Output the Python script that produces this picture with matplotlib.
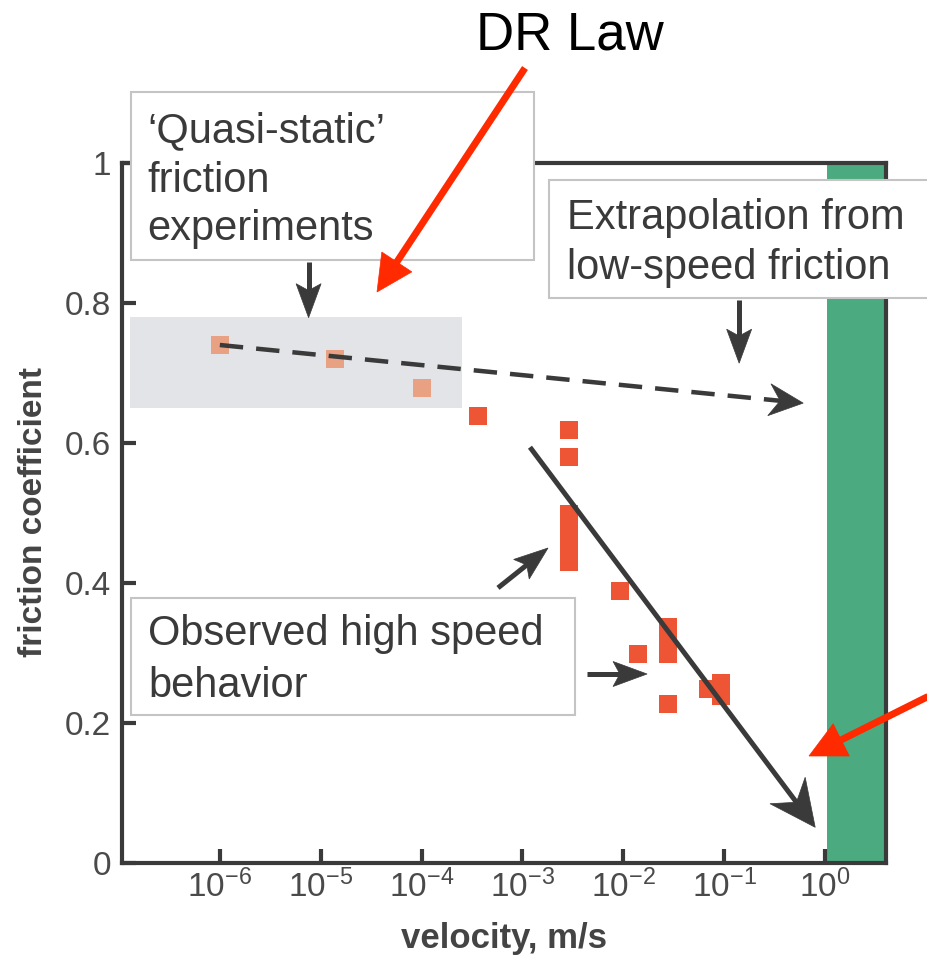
import numpy as np
import matplotlib
matplotlib.use('Agg')
import matplotlib.pyplot as plt
from matplotlib.patches import Rectangle, Polygon
from matplotlib.lines import Line2D
from matplotlib.transforms import IdentityTransform

plt.rcParams['font.family'] = ['Liberation Sans', 'DejaVu Sans']
plt.rcParams['mathtext.fontset'] = 'custom'
plt.rcParams['mathtext.rm'] = 'Liberation Sans'
plt.rcParams['mathtext.it'] = 'Liberation Sans:italic'
plt.rcParams['mathtext.bf'] = 'Liberation Sans:bold'

W, H = 928, 961

# ---------------- data ----------------
quasi_v = [1.0e-6, 1.38e-5, 1.0e-4]
quasi_mu = [0.740, 0.720, 0.679]

high_v = [3.6e-4, 2.9e-3, 2.9e-3, 2.9e-3, 2.9e-3, 2.9e-3, 2.9e-3, 2.9e-3,
          9.3e-3, 1.4e-2, 2.78e-2, 2.78e-2, 2.78e-2, 2.78e-2, 6.9e-2, 9.3e-2, 9.3e-2]
high_mu = [0.639, 0.619, 0.580, 0.499, 0.480, 0.462, 0.445, 0.430,
           0.389, 0.299, 0.337, 0.318, 0.299, 0.227, 0.249, 0.257, 0.239]

extrap_v = [1.0e-6, 10 ** -0.216]
extrap_mu = [0.740, 0.657]

trend_v = [10 ** -2.925, 10 ** -0.097]
trend_mu = [0.594, 0.051]

quasi_region_v = [10 ** -6.89, 10 ** -3.60]
quasi_region_mu = [0.65, 0.78]

seismic_v = [1.04, 10 ** 0.605]

xtick_exps = [-6, -5, -4, -3, -2, -1, 0]
ytick_vals = [0, 0.2, 0.4, 0.6, 0.8, 1.0]
ytick_labels = ['0', '0.2', '0.4', '0.6', '0.8', '1']

DARK = '#3a3a3a'
RED = '#EE5535'
FADED = '#E8A283'
GREEN = '#4BAA7F'
ARROW_RED = '#FF2A00'

fig = plt.figure(figsize=(W / 100, H / 100), dpi=100)
ax = fig.add_axes([122 / W, 1 - 863 / H, (886 - 122) / W, (863 - 163) / H])
ax.set_xscale('log')
ax.set_xlim(10 ** -6.97, 10 ** 0.605)
ax.set_ylim(0, 1)

# seismic (green) band
ax.axvspan(seismic_v[0], seismic_v[1], color=GREEN, lw=0, zorder=1)

# quasi-static region
ax.add_patch(Rectangle((quasi_region_v[0], quasi_region_mu[0]),
                       quasi_region_v[1] - quasi_region_v[0],
                       quasi_region_mu[1] - quasi_region_mu[0],
                       facecolor='#E2E4E8', edgecolor='none', zorder=1))

ax.plot(quasi_v, quasi_mu, 's', color=FADED, ms=13.5, mew=0, zorder=2)
ax.plot(high_v, high_mu, 's', color=RED, ms=13.5, mew=0, zorder=2)


def stealth(p0, p1, L, Wd, lw_px, color, notch=0.68, dashes=None, z=3, notched=True):
    """Arrow in display (pixel) coordinates with a stealth-style head."""
    p0 = np.asarray(p0, float)
    p1 = np.asarray(p1, float)
    d = p1 - p0
    d /= np.hypot(*d)
    n = np.array([-d[1], d[0]])
    base = p1 - L * d
    npt = p1 - (notch if notched else 1.0) * L * d
    end = npt + 0.05 * L * d
    ln = Line2D([p0[0], end[0]], [p0[1], end[1]], transform=IdentityTransform(),
                color=color, lw=lw_px * 0.72, solid_capstyle='butt', zorder=z)
    if dashes is not None:
        ln.set_dashes(dashes)
        ln.set_dash_capstyle('butt')
    fig.add_artist(ln)
    poly = Polygon([p1, base + Wd * n, npt, base - Wd * n], closed=True,
                   transform=IdentityTransform(), facecolor=color, edgecolor=color,
                   lw=0.5, zorder=z)
    fig.add_artist(poly)


def dpt(v, mu):
    return ax.transData.transform((v, mu))


# extrapolation dashed arrow
stealth(dpt(extrap_v[0], extrap_mu[0]), dpt(extrap_v[1], extrap_mu[1]),
        34, 16, 4.5, DARK, dashes=(5.2, 2.9), z=1.5)
# high speed trend arrow
stealth(dpt(trend_v[0], trend_mu[0]), dpt(trend_v[1], trend_mu[1]),
        46, 22, 5.0, DARK, z=1.5)

# small pointer arrows (data coordinates)
small = [((10 ** -5.12, 0.859), (10 ** -5.12, 0.779)),
         ((10 ** -0.851, 0.804), (10 ** -0.851, 0.714)),
         ((10 ** -3.242, 0.393), (10 ** -2.746, 0.450)),
         ((10 ** -2.359, 0.270), (10 ** -1.764, 0.270))]
for tail, tip in small:
    stealth(dpt(*tail), dpt(*tip), 34, 12.5, 5.0, DARK, notch=0.8, z=1.5)

# axes styling
for s in ax.spines.values():
    s.set_linewidth(3)
    s.set_color(DARK)
    s.set_zorder(4)
ax.set_xticks([10.0 ** e for e in xtick_exps])
ax.set_xticklabels([r'$\mathregular{10^{%d}}$' % e for e in xtick_exps])
ax.minorticks_off()
ax.set_yticks(ytick_vals)
ax.set_yticklabels(ytick_labels)
ax.tick_params(direction='in', length=10, width=3, color=DARK,
               labelcolor='#4a4a4a', labelsize=24)
ax.tick_params(axis='y', pad=8)
ax.tick_params(axis='x', pad=5)

fig.text(34 / W, 1 - 512 / H, 'friction coefficient', rotation=90,
         ha='center', va='center', fontsize=24, fontweight='bold', color='#444444')
fig.text(504 / W, 1 - 948 / H, 'velocity, m/s', ha='center', va='baseline',
         fontsize=25, fontweight='bold', color='#444444')


def px(x, y):
    return (x / W, 1 - y / H)


def box(x0, y0, x1, y1):
    r = Rectangle(px(x0, y1), (x1 - x0) / W, (y1 - y0) / H, transform=fig.transFigure,
                  facecolor='white', edgecolor='#c4c4c4', lw=1.5, zorder=5)
    fig.add_artist(r)


def lines(x, ys, texts):
    for y, t in zip(ys, texts):
        fig.text(*px(x, y), t, ha='left', va='baseline', fontsize=30,
                 color=DARK, zorder=6)


box(131, 92, 534, 260)
lines(147, [142, 192, 240], ['\u2018Quasi-static\u2019', 'friction', 'experiments'])
box(549, 180, 945, 298)
lines(567, [229, 279], ['Extrapolation from', 'low-speed friction'])
box(131, 598, 575, 715)
lines(148, [645, 697], ['Observed high speed', 'behavior'])

fig.text(*px(570, 49), 'DR Law', ha='center', va='baseline', fontsize=38, color='black')

# red annotation arrows (figure pixels, y measured from top)
for tail, tip in [((525, 68), (377, 292)), ((945, 688), (809, 756))]:
    stealth((tail[0], H - tail[1]), (tip[0], H - tip[1]), 36, 18, 7.0, ARROW_RED,
            notched=False, z=7)

fig.savefig('out.png', dpi=100)
